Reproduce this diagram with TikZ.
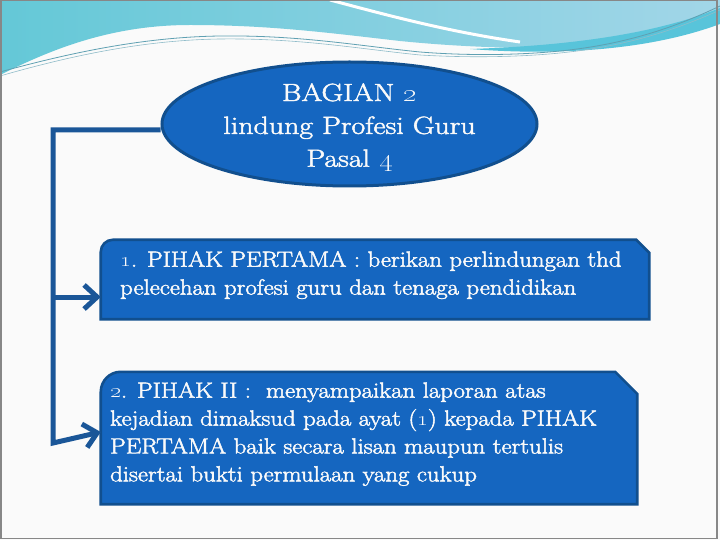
\documentclass[tikz,border=0pt]{standalone}
\usepackage{graphicx}
\usetikzlibrary{shapes.geometric,arrows.meta,calc}
\definecolor{bgc}{RGB}{250,250,250}
\definecolor{framec}{RGB}{135,135,135}
\definecolor{boxblue}{RGB}{21,102,192}
\definecolor{boxedge}{RGB}{17,79,142}
\definecolor{connblue}{RGB}{26,86,152}
\definecolor{txtc}{RGB}{250,250,250}
\definecolor{waveA}{RGB}{100,200,215}
\definecolor{waveB}{RGB}{162,214,232}
\definecolor{waveC}{RGB}{88,196,218}
\definecolor{wline}{RGB}{95,160,178}
\newcommand{\wbox}[1]{\scalebox{1.13}[1]{#1}}
\newcommand{\woval}[1]{\scalebox{1.2}[1]{#1}}
\newcommand{\fbon}{\special{pdf:literal direct 2 Tr 0.45 w}}
\newcommand{\fboff}{\special{pdf:literal direct 0 Tr}}
\begin{document}
\begin{tikzpicture}[x=1bp,y=-1bp,
  conn/.style={draw=connblue, line width=5bp, line join=miter},
  arrowconn/.style={conn, -{Straight Barb[length=13bp,width=24bp]}},
  boxshape/.style={fill=boxblue, draw=boxedge, line width=2.6bp},
  boxtext/.style={text=txtc, align=left, inner sep=0pt, anchor=north west,
    font=\fontsize{22}{28}\selectfont,
    execute at begin node=\fbon, execute at end node=\fboff},
  ovaltext/.style={text=txtc, align=center, inner sep=0pt, font=\fontsize{25}{33}\selectfont,
    execute at begin node=\fbon, execute at end node=\fboff}]
\useasboundingbox (0,0) rectangle (720,540);
% slide background
\fill[bgc] (0,0) rectangle (720,540);
% top wave decoration
\shade[left color=waveA, right color=waveB]
  (0,0) -- (720,0) -- (720,14)
  .. controls (680,32) and (620,48) .. (540,48)
  .. controls (480,48) and (430,44) .. (400,41)
  .. controls (330,33) and (270,25) .. (190,25)
  .. controls (110,25) and (50,50) .. (0,75) -- cycle;
\fill[waveC] (470,49) .. controls (560,56) and (650,50) .. (720,24)
  -- (720,8) .. controls (650,36) and (560,46) .. (470,49) -- cycle;
\draw[white, line width=3bp] (330,0) .. controls (390,16) and (450,32) .. (520,42);
\draw[wline, line width=0.8bp] (0,72) .. controls (80,50) and (150,37) .. (220,36)
  .. controls (300,35) and (360,46) .. (420,52)
  .. controls (470,56) and (520,55) .. (560,51)
  .. controls (630,44) and (680,25) .. (720,6);
\draw[wline!70, line width=0.6bp] (0,76) .. controls (80,53) and (150,40) .. (220,39)
  .. controls (300,38) and (360,49) .. (420,55)
  .. controls (470,58) and (520,57) .. (560,53)
  .. controls (630,46) and (680,28) .. (720,10);
% frame
\draw[framec, line width=1.5bp] (0.75,0.75) rectangle (717,538.5);
% oval
\node[ellipse, draw=boxedge, line width=3bp, fill=boxblue, minimum width=375bp,
  minimum height=124bp, inner sep=0pt] (e) at (349.5,124) {};
\node[ovaltext] (et) at (349.5,127.5)
  {\woval{BAGIAN \oldstylenums{2}}\\\woval{lindung Profesi Guru}\\\woval{Pasal \oldstylenums{4}}};
% boxes
\node[rectangle, minimum width=548bp, minimum height=79bp, inner sep=0pt] (b1) at (375,279.5) {};
\node[rectangle, minimum width=536bp, minimum height=132bp, inner sep=0pt] (b2) at (369,438) {};
\path[boxshape] (b1.south west) -- ($(b1.north west)+(0,12)$)
  arc[start angle=180, end angle=90, radius=12bp]
  -- ($(b1.north east)+(-13,0)$) -- ($(b1.north east)+(0,13)$) -- (b1.south east) -- cycle;
\path[boxshape] (b2.south west) -- ($(b2.north west)+(0,20)$)
  arc[start angle=180, end angle=90, radius=20bp]
  -- ($(b2.north east)+(-22,0)$) -- ($(b2.north east)+(0,22)$) -- (b2.south east) -- cycle;
\node[boxtext] (t1) at (120,251)
  {\wbox{\oldstylenums{1}. PIHAK PERTAMA : berikan perlindungan thd}\\\wbox{pelecehan profesi guru dan tenaga pendidikan}};
\node[boxtext] (t2) at (110,382)
  {\wbox{\oldstylenums{2}. PIHAK II :\ \ menyampaikan laporan atas}\\\wbox{kejadian dimaksud pada ayat (\oldstylenums{1}) kepada PIHAK}\\\wbox{PERTAMA baik secara lisan maupun tertulis}\\\wbox{disertai bukti permulaan yang cukup}};
% connectors
\coordinate (top) at (53,130);
\coordinate (a1) at (53,297);
\coordinate (bot) at (53,443);
\coordinate (a2y) at (0,432);
\draw[arrowconn] (e.west |- top) -- (top) -- (bot) -- (b2.west |- a2y);
\draw[arrowconn] (a1) -- (b1.west |- a1);
\end{tikzpicture}
\end{document}
